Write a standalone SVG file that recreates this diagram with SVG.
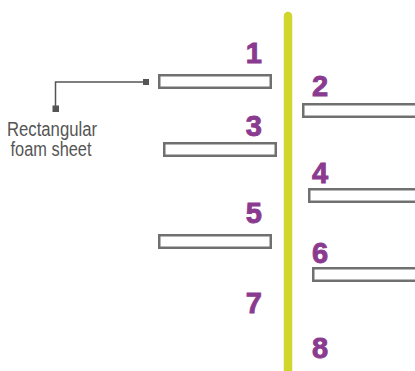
<svg xmlns="http://www.w3.org/2000/svg" width="415" height="371" viewBox="0 0 415 371">
<style>
.sheet{fill:#fff;stroke:#707070;stroke-width:2.5}
.num{font-family:"Liberation Sans",Arial,sans-serif;font-weight:bold;font-size:29px;fill:#8a3b8f;stroke:#8a3b8f;stroke-width:0.9}
.lbl{font-family:"Liberation Sans",Arial,sans-serif;font-size:20px;fill:#555}
.lead{fill:none;stroke:#555;stroke-width:1.5}
</style>
<rect width="415" height="371" fill="#fff"/>
<g id="pole"><line x1="288" y1="16" x2="288" y2="380" stroke="#d0d62c" stroke-width="8.5" stroke-linecap="round"/></g>
<g id="sheet1"><rect class="sheet" x="159.25" y="75.25" width="111.5" height="12.5"/><text class="num" x="262" y="63" text-anchor="end">1</text></g>
<g id="sheet2"><rect class="sheet" x="303.25" y="104.25" width="115" height="12.5"/><text class="num" x="312" y="96">2</text></g>
<g id="sheet3"><rect class="sheet" x="164.25" y="143.25" width="111.5" height="12.5"/><text class="num" x="262" y="136" text-anchor="end">3</text></g>
<g id="sheet4"><rect class="sheet" x="309.25" y="189.25" width="115" height="12.5"/><text class="num" x="312" y="183">4</text></g>
<g id="sheet5"><rect class="sheet" x="159.25" y="235.25" width="111.5" height="12.5"/><text class="num" x="262" y="223" text-anchor="end">5</text></g>
<g id="sheet6"><rect class="sheet" x="313.25" y="268.25" width="115" height="12.5"/><text class="num" x="312" y="263">6</text></g>
<g id="label7"><text class="num" x="262" y="313" text-anchor="end">7</text></g>
<g id="label8"><text class="num" x="312" y="358">8</text></g>
<g id="connectors">
<polyline class="lead" points="146,82 55.5,82 55.5,108"/>
<rect x="143" y="79" width="6" height="6" fill="#555"/>
<rect x="52.5" y="105.5" width="6.5" height="6.5" fill="#555"/>
</g>
<g id="callout">
<text class="lbl" x="52" y="136" text-anchor="middle" textLength="90" lengthAdjust="spacingAndGlyphs">Rectangular</text>
<text class="lbl" x="51" y="156" text-anchor="middle" textLength="81" lengthAdjust="spacingAndGlyphs">foam sheet</text>
</g>
</svg>
